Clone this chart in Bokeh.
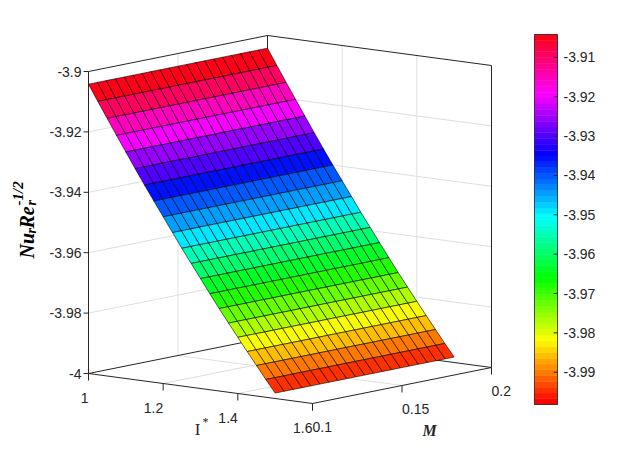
import colorsys
import numpy as np
from bokeh.plotting import figure
from bokeh.models import Range1d, ColumnDataSource, LinearColorMapper
from bokeh.transform import transform
from bokeh.embed import file_html
from bokeh.resources import INLINE
from bokeh.core.properties import value

# ---------------- data ----------------
I_vals = [1.000, 1.025, 1.050, 1.075, 1.100, 1.125, 1.150, 1.175, 1.200, 1.225,
          1.250, 1.275, 1.300, 1.325, 1.350, 1.375, 1.400, 1.425, 1.450, 1.475, 1.500]
M_vals = [0.100, 0.105, 0.110, 0.115, 0.120, 0.125, 0.130, 0.135, 0.140, 0.145,
          0.150, 0.155, 0.160, 0.165, 0.170, 0.175, 0.180, 0.185, 0.190, 0.195, 0.200]
# Nu_r Re_r^-1/2 along I* (constant along M)
Nu_vals = [-3.9042, -3.9095, -3.9147, -3.9199, -3.9250, -3.9301, -3.9351, -3.9400,
           -3.9448, -3.9496, -3.9544, -3.9590, -3.9636, -3.9682, -3.9727, -3.9771,
           -3.9814, -3.9857, -3.9899, -3.9941, -3.9982]

I_lim = [1.0, 1.6]
M_lim = [0.1, 0.2]
Z_lim = [-4.0, -3.9]
I_ticks = [1.0, 1.2, 1.4, 1.6]
I_tick_labels = ["1", "1.2", "1.4", "1.6"]
M_ticks = [0.1, 0.15, 0.2]
M_tick_labels = ["0.1", "0.15", "0.2"]
Z_ticks = [-4.0, -3.98, -3.96, -3.94, -3.92, -3.9]
Z_tick_labels = ["-4", "-3.98", "-3.96", "-3.94", "-3.92", "-3.9"]
CB_ticks = [-3.99, -3.98, -3.97, -3.96, -3.95, -3.94, -3.93, -3.92, -3.91]
CB_tick_labels = ["-3.99", "-3.98", "-3.97", "-3.96", "-3.95", "-3.94", "-3.93", "-3.92", "-3.91"]

# ---------------- layout / style ----------------
W, H = 624, 438
ORIGIN = (88.0, 65.0)         # screen position of (I=1, M=0.1, z=-4)
AX_I = (224.0, -30.0)         # screen vector of the full I* span
AX_M = (179.0, 36.0)          # screen vector of the full M span
AX_Z = (0.0, 302.0)           # screen vector of the full z span
CB_L, CB_R, CB_B, CB_T = 534.0, 557.0, 34.0, 404.0
AXC = "#262626"
GRIDC = "#dfdfdf"
SANS = value("Liberation Sans")
SERIF = value("Liberation Serif")
TICK_FS = "14px"

def proj(i, m, z):
    u = (i - I_lim[0]) / (I_lim[1] - I_lim[0])
    v = (m - M_lim[0]) / (M_lim[1] - M_lim[0])
    w = (z - Z_lim[0]) / (Z_lim[1] - Z_lim[0])
    x = ORIGIN[0] + u * AX_I[0] + v * AX_M[0] + w * AX_Z[0]
    y = ORIGIN[1] + u * AX_I[1] + v * AX_M[1] + w * AX_Z[1]
    return x, y

# hsv colormap (64 levels)
N_COL = 64
palette = []
for k in range(N_COL):
    r, g, b = colorsys.hsv_to_rgb(k / N_COL, 1.0, 1.0)
    palette.append("#%02x%02x%02x" % (round(r * 255), round(g * 255), round(b * 255)))
zmin, zmax = min(Nu_vals), max(Nu_vals)
mapper = LinearColorMapper(palette=palette, low=zmin, high=zmax)

p = figure(width=W, height=H, output_backend="svg", toolbar_location=None,
           x_range=Range1d(0, W), y_range=Range1d(0, H), min_border=0,
           background_fill_color="white", border_fill_color="white")
p.axis.visible = False
p.grid.visible = False
p.outline_line_color = None

# ---------------- grid lines on back planes ----------------
gx, gy = [], []
for z in Z_ticks[1:-1]:
    for a, b in [((I_lim[0], M_lim[0]), (I_lim[0], M_lim[1])), ((I_lim[0], M_lim[1]), (I_lim[1], M_lim[1]))]:
        p0 = proj(a[0], a[1], z); p1 = proj(b[0], b[1], z)
        gx.append([p0[0], p1[0]]); gy.append([p0[1], p1[1]])
for i in I_ticks[1:-1]:
    for a, b in [((i, M_lim[0], Z_lim[0]), (i, M_lim[1], Z_lim[0])), ((i, M_lim[1], Z_lim[0]), (i, M_lim[1], Z_lim[1]))]:
        p0 = proj(*a); p1 = proj(*b)
        gx.append([p0[0], p1[0]]); gy.append([p0[1], p1[1]])
for m in M_ticks[1:-1]:
    for a, b in [((I_lim[0], m, Z_lim[0]), (I_lim[1], m, Z_lim[0])), ((I_lim[0], m, Z_lim[0]), (I_lim[0], m, Z_lim[1]))]:
        p0 = proj(*a); p1 = proj(*b)
        gx.append([p0[0], p1[0]]); gy.append([p0[1], p1[1]])
p.multi_line(gx, gy, line_color=GRIDC, line_width=1)

# ---------------- box edges ----------------
i0, i1 = I_lim; m0, m1 = M_lim; z0, z1 = Z_lim
edges = [((i0, m0, z0), (i1, m0, z0)), ((i1, m0, z0), (i1, m1, z0)), ((i0, m0, z0), (i0, m0, z1)),
         ((i0, m0, z0), (i0, m1, z0)), ((i0, m1, z0), (i1, m1, z0)), ((i1, m1, z0), (i1, m1, z1)),
         ((i0, m1, z0), (i0, m1, z1)), ((i0, m0, z1), (i0, m1, z1)), ((i0, m1, z1), (i1, m1, z1))]
ex, ey = [], []
for a, b in edges:
    p0 = proj(*a); p1 = proj(*b)
    ex.append([p0[0], p1[0]]); ey.append([p0[1], p1[1]])
p.multi_line(ex, ey, line_color=AXC, line_width=1)

# ---------------- ticks & tick labels ----------------
tx, ty = [], []
zl_x, zl_y = [], []
for z in Z_ticks:
    x, y = proj(i0, m0, z)
    tx.append([x - 5, x]); ty.append([y, y])
    zl_x.append(x - 7); zl_y.append(y)
il_x, il_y = [], []
for i in I_ticks:
    x, y = proj(i, m0, z0)
    tx.append([x, x]); ty.append([y, y - 7])
    il_x.append(x); il_y.append(y - 24)
ml_x, ml_y = [], []
for m in M_ticks:
    x, y = proj(i1, m, z0)
    tx.append([x, x]); ty.append([y, y - 7])
    ml_x.append(x); ml_y.append(y - 23)
p.multi_line(tx, ty, line_color=AXC, line_width=1)
p.text(zl_x, zl_y, text=Z_tick_labels, text_align="right", text_baseline="middle",
       text_font=SANS, text_font_size=TICK_FS, text_color=AXC)
p.text(il_x, il_y, text=I_tick_labels, text_align="right", text_baseline="middle",
       text_font=SANS, text_font_size=TICK_FS, text_color=AXC)
p.text(ml_x, ml_y, text=M_tick_labels, text_align="left", text_baseline="middle",
       text_font=SANS, text_font_size=TICK_FS, text_color=AXC)

# ---------------- surface ----------------
xs, ys, cs = [], [], []
for a in range(len(I_vals) - 1):
    for b in range(len(M_vals) - 1):
        corners = [(a, b), (a + 1, b), (a + 1, b + 1), (a, b + 1)]
        pts = [proj(I_vals[ia], M_vals[jb], Nu_vals[ia]) for ia, jb in corners]
        xs.append([q[0] for q in pts]); ys.append([q[1] for q in pts])
        cs.append(Nu_vals[a])
surf = ColumnDataSource(dict(xs=xs, ys=ys, c=cs))
p.patches("xs", "ys", source=surf, fill_color=transform("c", mapper),
          line_color="black", line_width=0.6)

# ---------------- axis titles ----------------
BI = dict(angle=np.pi / 2, text_align="left", text_baseline="alphabetic",
          text_font=SERIF, text_font_style="bold italic", text_color="black")
# z label  Nu_r Re_r^{-1/2}  (reads bottom to top)
p.text([26], [180], text=["Nu"], text_font_size="20px", **BI)
p.text([31], [205], text=["r"], text_font_size="14px", **BI)
p.text([26], [210], text=["Re"], text_font_size="20px", **BI)
p.text([31], [233], text=["r"], text_font_size="14px", **BI)
p.text([17], [233], text=["-1/2"], text_font_size="15px", **BI)
# I* label
p.text([197], [9], text=["I"], text_align="center", text_baseline="alphabetic",
       text_font=SERIF, text_font_size="17px", text_color=AXC)
p.text([202], [17], text=["*"], text_align="left", text_baseline="alphabetic",
       text_font=SERIF, text_font_size="12px", text_color=AXC)
# M label
p.text([429], [8], text=["M"], text_align="center", text_baseline="alphabetic",
       text_font=SERIF, text_font_style="bold italic", text_font_size="16px", text_color=AXC)

# ---------------- colorbar ----------------
step = (zmax - zmin) / N_COL
def cb_y(v):
    return CB_B + (v - zmin) / (zmax - zmin) * (CB_T - CB_B)
cb = ColumnDataSource(dict(
    bottom=[cb_y(zmin + k * step) for k in range(N_COL)],
    top=[cb_y(zmin + (k + 1) * step) for k in range(N_COL)],
    c=[zmin + (k + 0.5) * step for k in range(N_COL)]))
p.quad(left=CB_L, right=CB_R, bottom="bottom", top="top", source=cb,
       fill_color=transform("c", mapper), line_color=transform("c", mapper), line_width=0.5)
p.quad(left=[CB_L], right=[CB_R], bottom=[CB_B], top=[CB_T], fill_color=None,
       line_color=AXC, line_width=0.8)
cbt_y = [cb_y(v) for v in CB_ticks]
p.multi_line([[CB_R - 4, CB_R] for _ in CB_ticks], [[y, y] for y in cbt_y],
             line_color=AXC, line_width=1)
p.text([CB_R + 6] * len(CB_ticks), cbt_y, text=CB_tick_labels, text_align="left",
       text_baseline="middle", text_font=SANS, text_font_size=TICK_FS, text_color=AXC)

open("out.html", "w").write(file_html(p, INLINE))
